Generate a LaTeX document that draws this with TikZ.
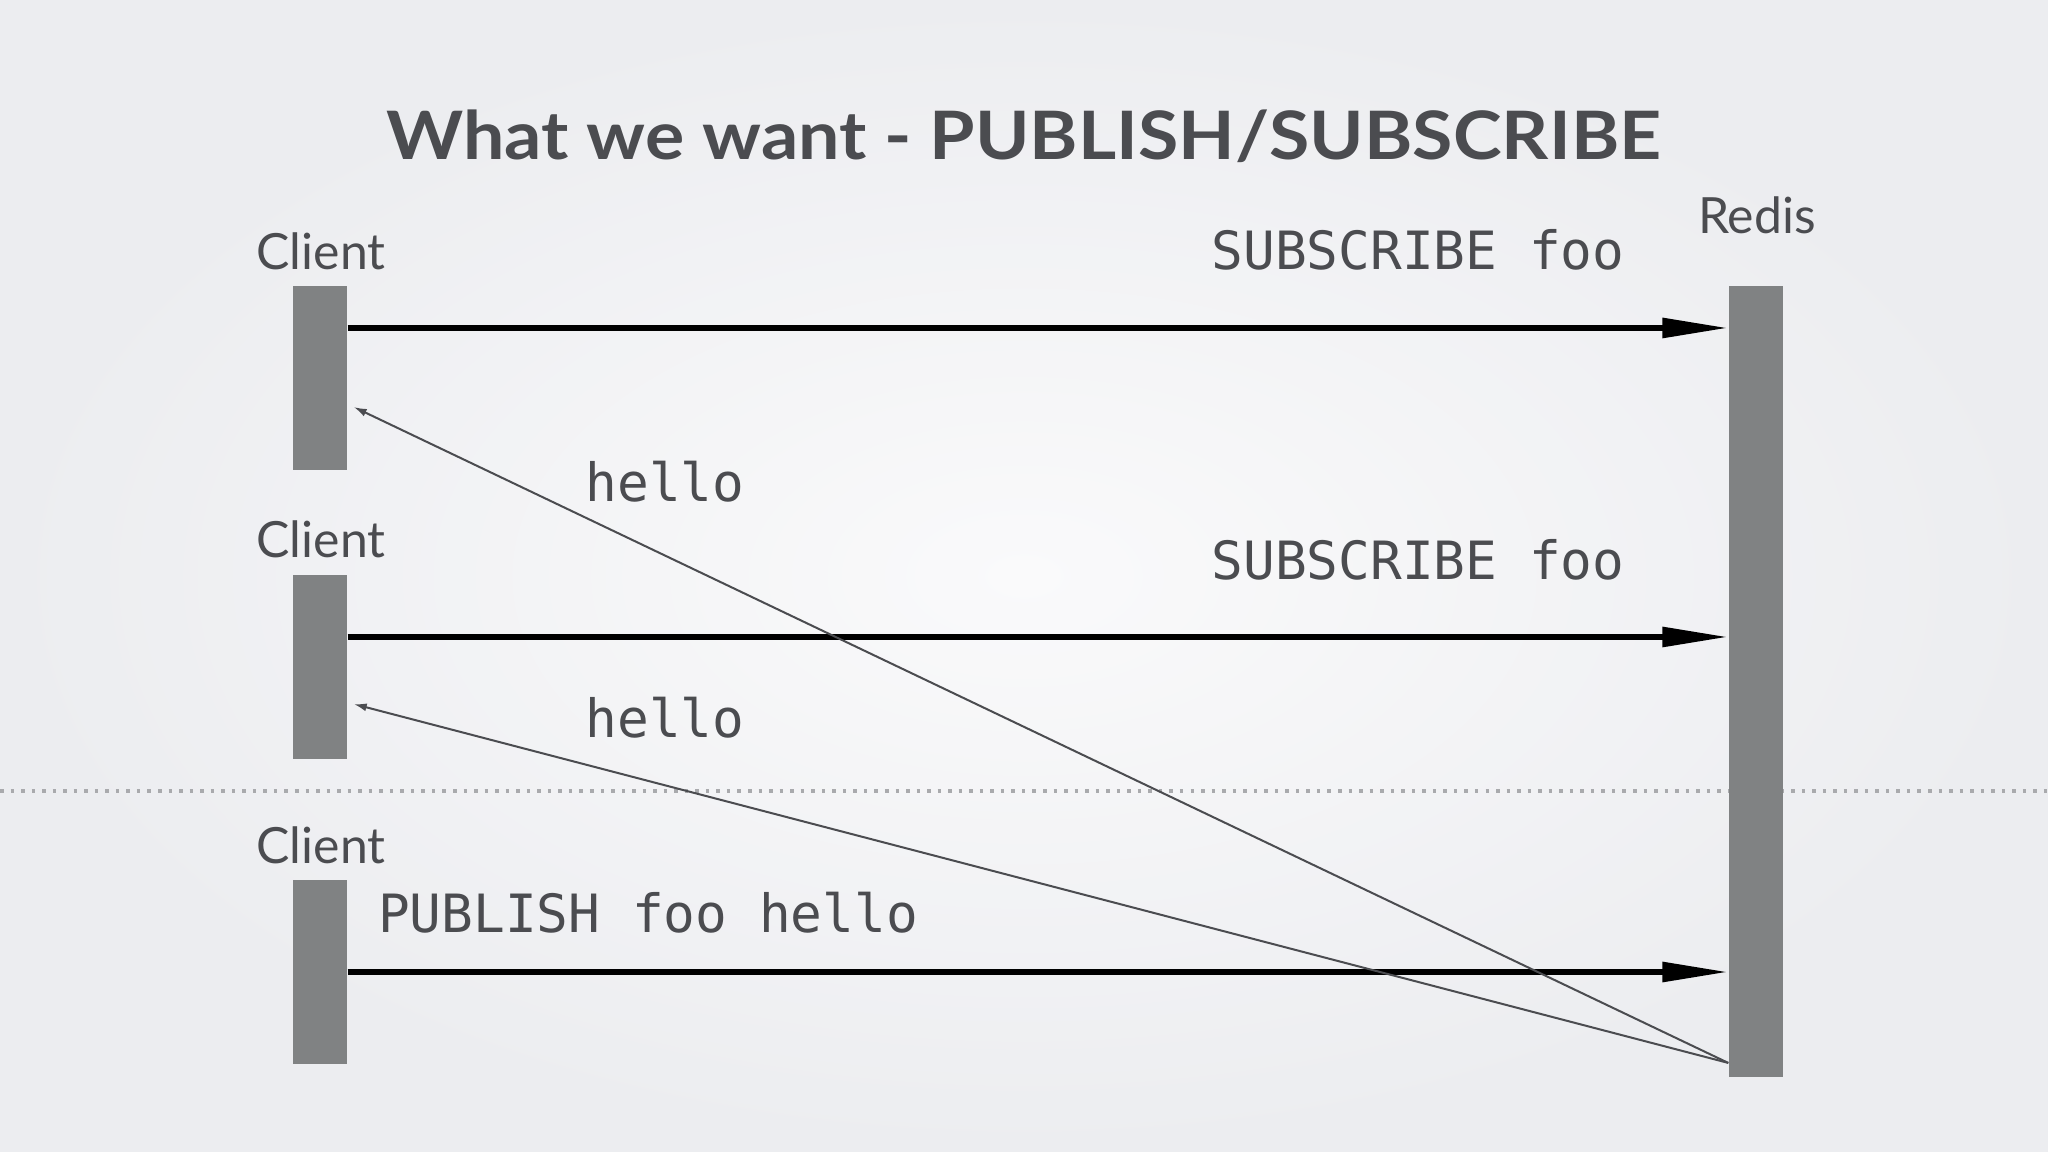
\documentclass[tikz,border=0pt]{standalone}
\usepackage{fontspec}
\setmainfont{Lato}
\setmonofont{DejaVu Sans Mono}
\usetikzlibrary{arrows.meta}

\definecolor{bgin}{HTML}{FAFAFB}
\definecolor{bgout}{HTML}{ECEDF0}
\definecolor{bar}{HTML}{808283}
\definecolor{ink}{HTML}{4B4C50}
\definecolor{rule}{HTML}{A9AAAD}

\begin{document}
\begin{tikzpicture}[x=0.01cm,y=-0.01cm]
					\useasboundingbox (0,0) rectangle (2048,1152);
					\shade[inner color=bgin,outer color=bgout] (0,0) rectangle (2048,1152);
					\draw[rule,dotted,line width=0.035cm] (0,791) -- (2048,791);

					\node[ink,font=\bfseries\fontsize{19}{22}\selectfont] (T) at (1024,136) {\scalebox{1.1}[1]{What we want - PUBLISH/SUBSCRIBE}};

					\begin{scope}[every node/.style={fill=bar,draw=none,inner sep=0pt,minimum width=0.54cm}]
						\node[minimum height=1.84cm] (C1) at (320,378) {};
						\node[minimum height=1.84cm] (C2) at (320,667) {};
						\node[minimum height=1.84cm] (C3) at (320,972) {};
						\node[minimum height=7.91cm] (R) at (1756,681.5) {};
					\end{scope}

					\begin{scope}[every node/.style={ink,font=\fontsize{14.2}{16}\selectfont}]
						\node (L1) at (321,251) {Client};
						\node (L2) at (321,539) {Client};
						\node (L3) at (321,845) {Client};
						\node (L4) at (1757,215) {Redis};
					\end{scope}

					\begin{scope}[every node/.style={ink,font=\ttfamily\fontsize{15}{18}\selectfont}]
						\node (S1) at (1418,250) {SUBSCRIBE foo};
						\node (S2) at (1418,560) {SUBSCRIBE foo};
						\node (H1) at (665,482) {hello};
						\node (H2) at (665,718) {hello};
						\node (P) at (648,913) {PUBLISH foo hello};
					\end{scope}

					\begin{scope}[every edge/.style={draw=black,line width=0.06cm,-{Triangle[length=0.66cm,width=0.19cm]}}]
						\path ([yshift=0.5cm]C1.east) edge ([yshift=0.5cm]C1.east -| R.west);
						\path ([yshift=0.3cm]C2.east) edge ([yshift=0.3cm]C2.east -| R.west);
						\path (C3.east) edge (C3.east -| R.west);
					\end{scope}

					\begin{scope}[every edge/.style={draw=ink,line width=0.02cm,-{Latex[length=0.13cm,width=0.08cm]}}]
						\path ([yshift=0.15cm]R.south west) edge ([xshift=0.06cm,yshift=-0.29cm]C1.east);
						\path ([yshift=0.15cm]R.south west) edge ([xshift=0.06cm,yshift=-0.37cm]C2.east);
					\end{scope}
				\end{tikzpicture}
\end{document}
